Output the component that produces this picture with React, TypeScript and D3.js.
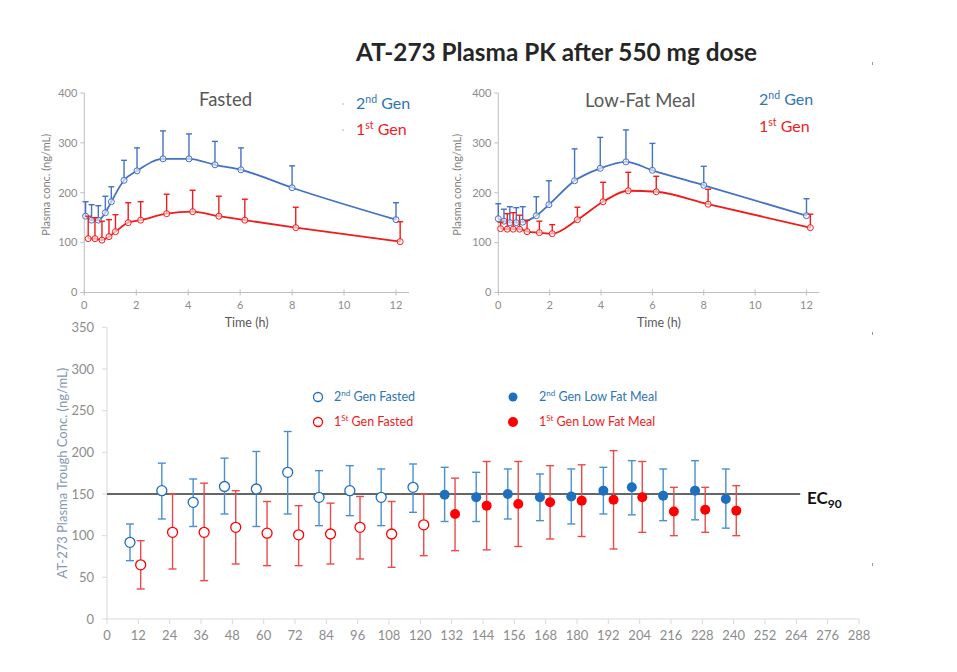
import React from 'react';
import * as d3 from 'd3';

// ---------- Data ----------
const pkXTicks = [0, 2, 4, 6, 8, 10, 12];
const pkYTicks = [0, 100, 200, 300, 400];

// Fasted panel
const fastedT2 = [0.05, 0.28, 0.54, 0.81, 1.04, 1.53, 2.03, 3.03, 4.03, 5.03, 6.03, 8.0, 12.0];
const fastedMean2 = [153, 145, 145, 160, 182, 225, 244, 268, 268, 256, 246, 210, 146];
const fastedUpper2 = [182, 176, 174, 193, 212, 265, 290, 324, 318, 303, 290, 254, 180];
const fastedT1 = [0.15, 0.41, 0.68, 0.95, 1.2, 1.69, 2.17, 3.17, 4.17, 5.18, 6.18, 8.14, 12.16];
const fastedMean1 = [108, 108, 105, 112, 122, 140, 145, 158, 162, 153, 145, 130, 102];
const fastedUpper1 = [153, 150, 143, 146, 156, 180, 182, 197, 205, 193, 187, 171, 142];

// Low-fat meal panel
const lowFatT2 = [0.0, 0.22, 0.45, 0.7, 0.95, 1.48, 1.97, 2.97, 3.97, 4.97, 6.0, 8.0, 12.0];
const lowFatMean2 = [148, 143, 140, 140, 141, 154, 176, 224, 249, 262, 245, 215, 154];
const lowFatUpper2 = [178, 167, 172, 170, 172, 192, 224, 288, 311, 326, 299, 253, 188];
const lowFatT1 = [0.09, 0.35, 0.58, 0.83, 1.12, 1.6, 2.1, 3.08, 4.08, 5.06, 6.15, 8.17, 12.15];
const lowFatMean1 = [128, 127, 127, 127, 122, 120, 118, 146, 182, 204, 202, 177, 130];
const lowFatUpper1 = [141, 158, 160, 155, 145, 143, 136, 171, 221, 241, 233, 207, 157];

// Trough panel
const troughXTicks = d3.range(0, 289, 12);
const troughYTicks = [0, 50, 100, 150, 200, 250, 300, 350];
const ec90 = 150;

const gen2FastedT = [8.8, 21, 33, 45, 57.2, 69.2, 81.2, 93, 105, 117.2];
const gen2FastedMean = [92, 154, 140, 159, 156, 176, 146, 154, 146, 158];
const gen2FastedLo = [70, 120, 111, 126, 111, 126, 112, 124, 112, 128];
const gen2FastedHi = [114, 187, 168, 193, 201, 225, 178, 184, 180, 186];

const gen1FastedT = [12.9, 25.1, 37.2, 49.3, 61.3, 73.4, 85.6, 96.9, 109, 121.3];
const gen1FastedMean = [65, 104, 104, 110, 103, 101, 102, 110, 102, 113];
const gen1FastedLo = [36, 60, 46, 66, 64, 64, 66, 72, 62, 76];
const gen1FastedHi = [94, 150, 163, 154, 141, 136, 139, 147, 141, 150];

const gen2LowFatT = [129.3, 141.4, 153.5, 165.8, 177.8, 190.1, 201, 213, 225.2, 237];
const gen2LowFatMean = [149, 146, 150, 146, 147, 154, 158, 148, 154, 144];
const gen2LowFatLo = [117, 117, 120, 118, 114, 126, 125, 118, 119, 109];
const gen2LowFatHi = [182, 176, 180, 174, 180, 182, 190, 180, 190, 180];

const gen1LowFatT = [133.3, 145.4, 157.5, 169.7, 181.8, 194, 205, 217.1, 229.1, 241];
const gen1LowFatMean = [126, 136, 138, 140, 142, 143, 146, 129, 131, 130];
const gen1LowFatLo = [82, 83, 87, 96, 99, 84, 104, 100, 104, 100];
const gen1LowFatHi = [169, 189, 189, 184, 185, 202, 189, 158, 158, 160];

// ---------- Styles ----------
const FONT = "Lato, 'Open Sans', 'Liberation Sans', sans-serif";
const AXIS = '#bfbfbf';
const TICKTXT = '#8c8c8c';
const PK_BLUE = '#4472c4';
const PK_RED = '#f01c1c';
const TXT_BLUE = '#2e75b6';
const TXT_RED = '#ee1c25';
const TR_BLUE = '#1f6fbf';
const TR_BLUE_BAR = '#4a90d0';
const TR_RED = '#ff0000';
const TR_RED_BAR = '#ec4a4a';

type Series = { t: number[]; mean: number[]; upper: number[]; color: string };

function PKPanel(props: {
  left: number;
  right: number;
  title: string;
  titleX: number;
  titleY: number;
  legendX: number;
  legendY2: number;
  legendY1: number;
  yTitleX: number;
  series: Series[];
  dots: boolean;
}) {
  const { left, right, series } = props;
  const x = d3.scaleLinear().domain([0, 12]).range([left, right]);
  const y = d3.scaleLinear().domain([0, 400]).range([292.5, 93]);
  const xEnd = x(12.5);
  return (
    <g fontFamily={FONT}>
      {/* axes */}
      <line x1={left} x2={left} y1={y(400)} y2={y(0)} stroke={AXIS} strokeWidth={1} />
      <line x1={left} x2={xEnd} y1={y(0)} y2={y(0)} stroke={AXIS} strokeWidth={1} />
      {pkYTicks.map((v) => (
        <g key={'y' + v}>
          <line x1={left - 4} x2={left} y1={y(v)} y2={y(v)} stroke={AXIS} />
          <text x={left - 7} y={y(v)} dy="0.35em" textAnchor="end" fontSize={11} fill={TICKTXT}>
            {v}
          </text>
        </g>
      ))}
      {pkXTicks.map((v) => (
        <g key={'x' + v}>
          <line x1={x(v)} x2={x(v)} y1={y(0) - 3} y2={y(0) + 3} stroke={AXIS} />
          <text x={x(v)} y={y(0) + 16} textAnchor="middle" fontSize={11} fill={TICKTXT}>
            {v}
          </text>
        </g>
      ))}
      <text
        transform={`translate(${props.yTitleX},${(y(400) + y(0)) / 2 - 8}) rotate(-90)`}
        textAnchor="middle"
        fontSize={11}
        fill="#7f7f7f"
      >
        Plasma conc. (ng/mL)
      </text>
      <text x={(left + xEnd) / 2} y={327} textAnchor="middle" fontSize={12.5} fill="#595959">
        Time (h)
      </text>
      {/* series */}
      {series.map((s, si) => {
        const pts = s.t.map((t, i) => [x(t), y(s.mean[i])] as [number, number]);
        const path = d3.line().curve(d3.curveMonotoneX)(pts) || '';
        return (
          <g key={si}>
            {s.t.map((t, i) => (
              <g key={i}>
                <line x1={x(t)} x2={x(t)} y1={y(s.mean[i])} y2={y(s.upper[i])} stroke={s.color} strokeWidth={1.4} />
                <line x1={x(t) - 3} x2={x(t) + 3} y1={y(s.upper[i])} y2={y(s.upper[i])} stroke={s.color} strokeWidth={1.4} />
              </g>
            ))}
            <path d={path} fill="none" stroke={s.color} strokeWidth={1.8} />
            {pts.map((p, i) => (
              <circle key={'c' + i} cx={p[0]} cy={p[1]} r={3} fill="white" fillOpacity={0.6} stroke={s.color} strokeWidth={1} />
            ))}
          </g>
        );
      })}
      {/* panel title and legend */}
      <text x={props.titleX} y={props.titleY} fontSize={18.5} fill="#595959">
        {props.title}
      </text>
      {props.dots && <circle cx={props.legendX - 13} cy={props.legendY2 - 5} r={0.8} fill="#aaa" />}
      {props.dots && <circle cx={props.legendX - 13} cy={props.legendY1 - 5} r={0.8} fill="#aaa" />}
      <text x={props.legendX} y={props.legendY2} fontSize={16} fill={TXT_BLUE}>
        2<tspan fontSize={10.5} dy={-6}>nd</tspan>
        <tspan dy={6}> Gen</tspan>
      </text>
      <text x={props.legendX} y={props.legendY1} fontSize={16} fill={TXT_RED}>
        1<tspan fontSize={10.5} dy={-6}>st</tspan>
        <tspan dy={6}> Gen</tspan>
      </text>
    </g>
  );
}

function TroughPanel() {
  const x = d3.scaleLinear().domain([0, 288]).range([107, 859]);
  const y = d3.scaleLinear().domain([0, 350]).range([619, 327.3]);
  const groups = [
    { t: gen2FastedT, m: gen2FastedMean, lo: gen2FastedLo, hi: gen2FastedHi, c: TR_BLUE, bar: TR_BLUE_BAR, filled: false },
    { t: gen1FastedT, m: gen1FastedMean, lo: gen1FastedLo, hi: gen1FastedHi, c: TR_RED, bar: TR_RED_BAR, filled: false },
    { t: gen2LowFatT, m: gen2LowFatMean, lo: gen2LowFatLo, hi: gen2LowFatHi, c: TR_BLUE, bar: TR_BLUE_BAR, filled: true },
    { t: gen1LowFatT, m: gen1LowFatMean, lo: gen1LowFatLo, hi: gen1LowFatHi, c: TR_RED, bar: TR_RED_BAR, filled: true },
  ];
  return (
    <g fontFamily={FONT}>
      <line x1={x(0)} x2={x(0)} y1={y(350)} y2={y(0)} stroke="#d9d9d9" />
      <line x1={x(0)} x2={x(288)} y1={y(0)} y2={y(0)} stroke="#d9d9d9" />
      {troughYTicks.map((v) => (
        <g key={'y' + v}>
          <line x1={x(0) - 5} x2={x(0)} y1={y(v)} y2={y(v)} stroke="#d9d9d9" />
          <text x={x(0) - 13} y={y(v)} dy="0.35em" textAnchor="end" fontSize={13} fill={TICKTXT}>
            {v}
          </text>
        </g>
      ))}
      {troughXTicks.map((v) => (
        <g key={'x' + v}>
          <line x1={x(v)} x2={x(v)} y1={y(0)} y2={y(0) + 5} stroke="#d9d9d9" />
          <text x={x(v)} y={y(0) + 21} textAnchor="middle" fontSize={13} fill={TICKTXT}>
            {v}
          </text>
        </g>
      ))}
      <text
        transform={`translate(67,${(y(0) + y(350)) / 2}) rotate(-90)`}
        textAnchor="middle"
        fontSize={13}
        fill="#8497b0"
      >
        AT-273 Plasma Trough Conc. (ng/mL)
      </text>
      {/* EC90 line */}
      <line x1={x(0)} x2={x(265.5)} y1={y(ec90)} y2={y(ec90)} stroke="#333" strokeWidth={1.5} />
      <text x={807} y={y(ec90) + 10} fontSize={17} fontWeight="bold" fill="#111">
        EC<tspan fontSize={12} dy={4}>90</tspan>
      </text>
      {groups.map((g, gi) => (
        <g key={gi}>
          {g.t.map((t, i) => (
            <g key={i}>
              <line x1={x(t)} x2={x(t)} y1={y(g.lo[i])} y2={y(g.hi[i])} stroke={g.bar} strokeWidth={1.4} />
              <line x1={x(t) - 4} x2={x(t) + 4} y1={y(g.lo[i])} y2={y(g.lo[i])} stroke={g.bar} strokeWidth={1.4} />
              <line x1={x(t) - 4} x2={x(t) + 4} y1={y(g.hi[i])} y2={y(g.hi[i])} stroke={g.bar} strokeWidth={1.4} />
            </g>
          ))}
          {g.t.map((t, i) =>
            g.filled ? (
              <circle key={'c' + i} cx={x(t)} cy={y(g.m[i])} r={5} fill={g.c} />
            ) : (
              <circle key={'c' + i} cx={x(t)} cy={y(g.m[i])} r={5} fill="white" stroke={g.c} strokeWidth={1.3} />
            )
          )}
        </g>
      ))}
      {/* legend */}
      <circle cx={318} cy={397} r={4.5} fill="white" stroke={TR_BLUE} strokeWidth={1.3} />
      <text x={334} y={401} fontSize={12.5} fill={TXT_BLUE}>
        2<tspan fontSize={8} dy={-5}>nd</tspan>
        <tspan dy={5}> Gen Fasted</tspan>
      </text>
      <circle cx={318} cy={422} r={4.5} fill="white" stroke={TR_RED} strokeWidth={1.3} />
      <text x={334} y={426} fontSize={12.5} fill={TXT_RED}>
        1<tspan fontSize={8} dy={-5}>St</tspan>
        <tspan dy={5}> Gen Fasted</tspan>
      </text>
      <circle cx={513} cy={397} r={4.5} fill={TR_BLUE} />
      <text x={539} y={401} fontSize={12.5} fill={TXT_BLUE}>
        2<tspan fontSize={8} dy={-5}>nd</tspan>
        <tspan dy={5}> Gen Low Fat Meal</tspan>
      </text>
      <circle cx={513} cy={422} r={5} fill={TR_RED} />
      <text x={539} y={426} fontSize={12.5} fill={TXT_RED}>
        1<tspan fontSize={8} dy={-5}>St</tspan>
        <tspan dy={5}> Gen Low Fat Meal</tspan>
      </text>
    </g>
  );
}

export default function App() {
  return (
    <svg
      width={957}
      height={672}
      style={{ position: 'absolute', left: 0, top: 0, background: 'white' }}
    >
      <rect width={957} height={672} fill="white" />
      <text x={356} y={61} fontFamily={FONT} fontSize={24.3} fontWeight="bold" fill="#262626">
        AT-273 Plasma PK after 550 mg dose
      </text>
      {/* small specks at right edge */}
      <line x1={872.5} x2={872.5} y1={62} y2={65} stroke="#999" />
      <line x1={872.5} x2={872.5} y1={332} y2={335} stroke="#999" />
      <line x1={872.5} x2={872.5} y1={563} y2={566} stroke="#999" />
      <PKPanel
        left={84.3}
        right={396}
        title="Fasted"
        titleX={199}
        titleY={106}
        legendX={356}
        legendY2={109}
        legendY1={135}
        yTitleX={50}
        dots={true}
        series={[
          { t: fastedT2, mean: fastedMean2, upper: fastedUpper2, color: PK_BLUE },
          { t: fastedT1, mean: fastedMean1, upper: fastedUpper1, color: PK_RED },
        ]}
      />
      <PKPanel
        left={498.3}
        right={806.5}
        title="Low-Fat Meal"
        titleX={585}
        titleY={107}
        legendX={759}
        legendY2={105}
        legendY1={132}
        yTitleX={461}
        dots={false}
        series={[
          { t: lowFatT2, mean: lowFatMean2, upper: lowFatUpper2, color: PK_BLUE },
          { t: lowFatT1, mean: lowFatMean1, upper: lowFatUpper1, color: PK_RED },
        ]}
      />
      <TroughPanel />
    </svg>
  );
}
